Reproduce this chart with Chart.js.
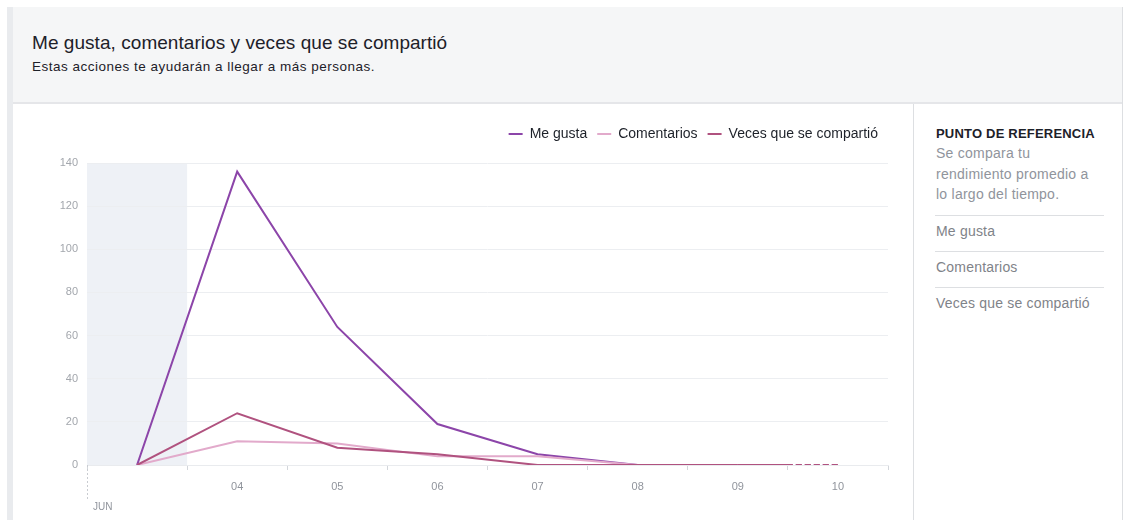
<!DOCTYPE html>
<html lang="es">
<head>
<meta charset="utf-8">
<script src="https://cdn.jsdelivr.net/npm/chart.js@4"></script>
<style>
  html, body { margin: 0; padding: 0; background: #ffffff; width: 1130px; height: 520px; overflow: hidden; font-family: "Liberation Sans", Arial, sans-serif; }
  #frame { position: absolute; left: 7px; top: 7px; width: 1116px; height: 520px; border-left: 6px solid #e9ebee; border-right: 1px solid #dddfe2; box-sizing: border-box; }
  #header { position: absolute; left: 13px; top: 7px; width: 1109px; height: 95px; background: #f5f6f7; border-bottom: 2px solid #e5e6e9; }
  #title { position: absolute; left: 19px; top: 25px; font-size: 19px; color: #1d2129; letter-spacing: 0.05px; }
  #subtitle { position: absolute; left: 19px; top: 52px; font-size: 13.5px; color: #1d2129; letter-spacing: 0.5px; }
  #divider { position: absolute; left: 913px; top: 104px; width: 1px; height: 416px; background: #dddfe2; }
  #side { position: absolute; left: 936px; top: 126px; width: 175px; }
  #side .h { font-size: 13px; font-weight: bold; color: #1d2129; letter-spacing: 0.2px; }
  #side .d { font-size: 14px; color: #90949c; line-height: 20.5px; margin-top: 2px; letter-spacing: 0.25px; }
  #side .sep { height: 1px; background: #dddfe2; margin: 10px 0 0 -1px; width: 169px; }
  #side .it { font-size: 14px; color: #7f8389; line-height: 16px; padding-top: 7px; height: 18px; letter-spacing: 0.2px; }
  #wrap { position: absolute; left: 13px; top: 104px; width: 900px; height: 416px; }
</style>
</head>
<body>
<div id="frame"></div>
<div id="header">
  <div id="title">Me gusta, comentarios y veces que se compartió</div>
  <div id="subtitle">Estas acciones te ayudarán a llegar a más personas.</div>
</div>
<div id="divider"></div>
<div id="side">
  <div class="h">PUNTO DE REFERENCIA</div>
  <div class="d">Se compara tu<br>rendimiento promedio a<br>lo largo del tiempo.</div>
  <div class="sep"></div>
  <div class="it">Me gusta</div>
  <div class="sep"></div>
  <div class="it">Comentarios</div>
  <div class="sep"></div>
  <div class="it">Veces que se compartió</div>
</div>
<div id="wrap"><canvas id="c" width="900" height="416"></canvas></div>
<script>
// ---- data ----
const days = ['03', '04', '05', '06', '07', '08', '09', '10'];
const tickLabels = ['', '04', '05', '06', '07', '08', '09', '10'];
const monthLabel = 'JUN';
const meGusta = [0, 136, 64, 19, 5, 0, 0, 0];
const comentarios = [0, 11, 10, 4, 4, 0, 0, 0];
const compartido = [0, 24, 8, 5, 0, 0, 0, 0];
const seriesNames = ['Me gusta', 'Comentarios', 'Veces que se compartió'];
const yTicks = [0, 20, 40, 60, 80, 100, 120, 140];

const colors = ['#8c45a9', '#e2aacb', '#b0527f'];
const lastDash = [55, 3, 6, 3, 6, 3, 6, 3, 6, 3, 6, 3, 200];

function mkSet(label, data, color, order) {
  return {
    label, data, borderColor: color, backgroundColor: color,
    borderWidth: 2, pointRadius: 0, pointHoverRadius: 0, tension: 0, order,
    segment: { borderDash: ctx => ctx.p0DataIndex === days.length - 2 ? lastDash : undefined }
  };
}

const legendGap = {
  id: 'legendGap',
  beforeInit(chart) {
    const lg = chart.legend;
    if (!lg) return;
    const f = lg.fit;
    lg.fit = function () { f.call(this); this.height += 12; };
  }
};

const shade = {
  id: 'shade',
  beforeDraw(chart) {
    const { ctx, chartArea, scales } = chart;
    const x = scales.x;
    const half = (x.getPixelForValue(1) - x.getPixelForValue(0)) / 2;
    ctx.save();
    ctx.fillStyle = '#eef1f6';
    ctx.fillRect(chartArea.left, chartArea.top, x.getPixelForValue(0) + half - chartArea.left, chartArea.bottom - chartArea.top);
    ctx.restore();
  },
  afterDraw(chart) {
    const { ctx, chartArea } = chart;
    ctx.save();
    ctx.strokeStyle = '#c9ccd1';
    ctx.lineWidth = 1;
    ctx.setLineDash([2, 2]);
    ctx.beginPath();
    ctx.moveTo(chartArea.left + 0.5, chartArea.bottom);
    ctx.lineTo(chartArea.left + 0.5, chartArea.bottom + 36);
    ctx.stroke();
    ctx.setLineDash([]);
    ctx.fillStyle = '#90949c';
    ctx.font = '10px "Liberation Sans", Arial, sans-serif';
    ctx.textBaseline = 'middle';
    ctx.fillText(monthLabel, chartArea.left + 6, chartArea.bottom + 42);
    ctx.restore();
  }
};

new Chart(document.getElementById('c'), {
  type: 'line',
  data: {
    labels: days,
    datasets: [
      mkSet(seriesNames[0], meGusta, colors[0], 3),
      mkSet(seriesNames[1], comentarios, colors[1], 2),
      mkSet(seriesNames[2], compartido, colors[2], 1)
    ]
  },
  options: {
    responsive: false,
    animation: false,
    events: [],
    layout: { padding: { top: 13, right: 25, left: 0, bottom: 0 } },
    plugins: {
      tooltip: { enabled: false },
      legend: {
        position: 'top', align: 'end',
        labels: {
          usePointStyle: true, pointStyle: 'line', pointStyleWidth: 14, boxHeight: 14,
          color: '#1d2129', padding: 10,
          font: { size: 14, family: '"Liberation Sans", Arial, sans-serif' },
          sort: (a, b) => a.datasetIndex - b.datasetIndex
        }
      }
    },
    scales: {
      x: {
        type: 'category', offset: true,
        grid: { offset: true, drawOnChartArea: false, drawTicks: true, tickLength: 5, color: '#d3d6db' },
        border: { display: true, color: '#e9ebee' },
        ticks: {
          color: '#90949c', padding: 10, maxRotation: 0,
          font: { size: 11, family: '"Liberation Sans", Arial, sans-serif' },
          callback: (v, i) => tickLabels[i]
        },
        afterFit: s => { s.height = 55; }
      },
      y: {
        min: 0, max: 140,
        afterBuildTicks: s => { s.ticks = yTicks.map(v => ({ value: v })); },
        grid: { color: '#eceef1', drawTicks: false },
        border: { display: false },
        ticks: {
          color: '#a3a7ad', padding: 9,
          font: { size: 11, family: '"Liberation Sans", Arial, sans-serif' }
        },
        afterFit: s => { s.width = 74; }
      }
    }
  },
  plugins: [legendGap, shade]
});
</script>
</body>
</html>
